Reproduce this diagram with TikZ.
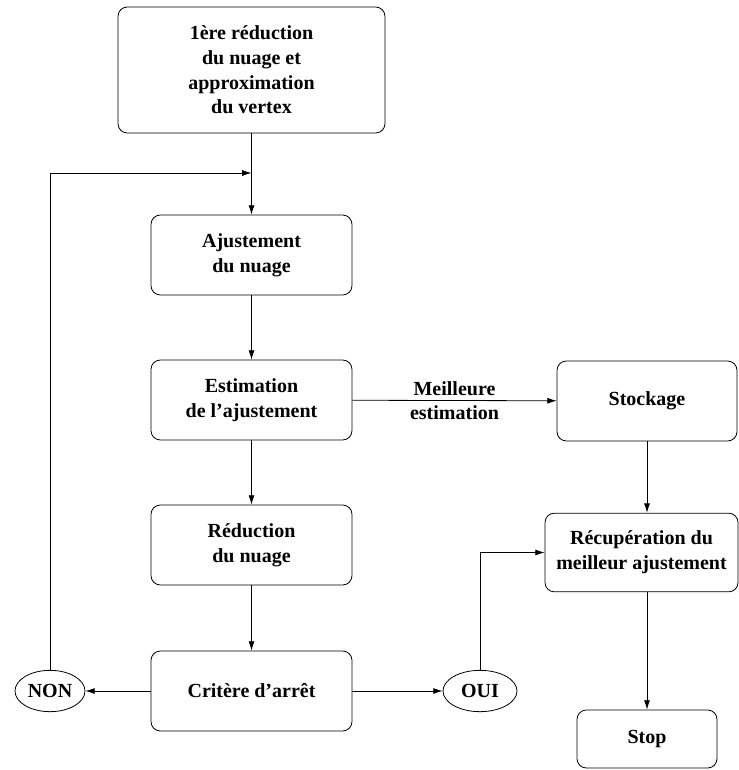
\documentclass[tikz,border=0pt]{standalone}
\usepackage{fontspec}
\setmainfont{Liberation Serif}
\usetikzlibrary{shapes.geometric,arrows.meta}
\begin{document}
\begin{tikzpicture}[x=0.75pt, y=-0.75pt, line width=0.6pt,
    every node/.style={font=\fontsize{15pt}{18.5pt}\selectfont\bfseries, align=center},
    etape/.style={draw, rounded corners=7pt, minimum width=150.75pt, minimum height=60pt, inner sep=0pt},
    choix/.style={draw, ellipse, minimum width=52.5pt, minimum height=31pt, inner sep=0pt},
    fleche/.style={-{Latex[length=7pt, width=4.5pt]}}]
    \useasboundingbox (0,0) rectangle (738,770);
    \node[etape, minimum width=200.25pt, minimum height=94.5pt] (reduc1) at (251.5,70) {1ère réduction\\du nuage et\\approximation\\du vertex};
    \node[etape] (ajust) at (251.5,255) {Ajustement\\du nuage};
    \node[etape] (estim) at (251.5,400) {Estimation\\de l’ajustement};
    \node[etape] (reduc) at (251.5,545) {Réduction\\du nuage};
    \node[etape] (critere) at (251.5,691) {Critère d’arrêt};
    \node[choix] (non) at (50,691) {NON};
    \node[choix, minimum width=55.5pt] (oui) at (480,691) {OUI};
    \node[etape, minimum width=135pt] (stock) at (647,401) {Stockage};
    \node[etape, minimum width=144.75pt, minimum height=59pt] (recup) at (641.5,552.5) {Récupération du\\meilleur ajustement};
    \node[etape, minimum width=105pt, minimum height=43.5pt] (stop) at (647,739) {Stop};
    \coordinate (retour) at (251.5,173);
    \draw[fleche] (reduc1) -- (ajust);
    \draw[fleche] (ajust) -- (estim);
    \draw[fleche] (estim) -- (reduc);
    \draw[fleche] (reduc) -- (critere);
    \draw[fleche] (estim) -- node[midway] {Meilleure\\estimation} (stock);
    \draw[fleche] (critere) -- (non);
    \draw[fleche] (critere) -- (oui);
    \draw[fleche] (non.north) |- (retour);
    \draw[fleche] (oui.north) |- (recup.west);
    \draw[fleche] (stock.south) -- (stock.south |- recup.north);
    \draw[fleche] (stop.north |- recup.south) -- (stop.north);
\end{tikzpicture}
\end{document}
